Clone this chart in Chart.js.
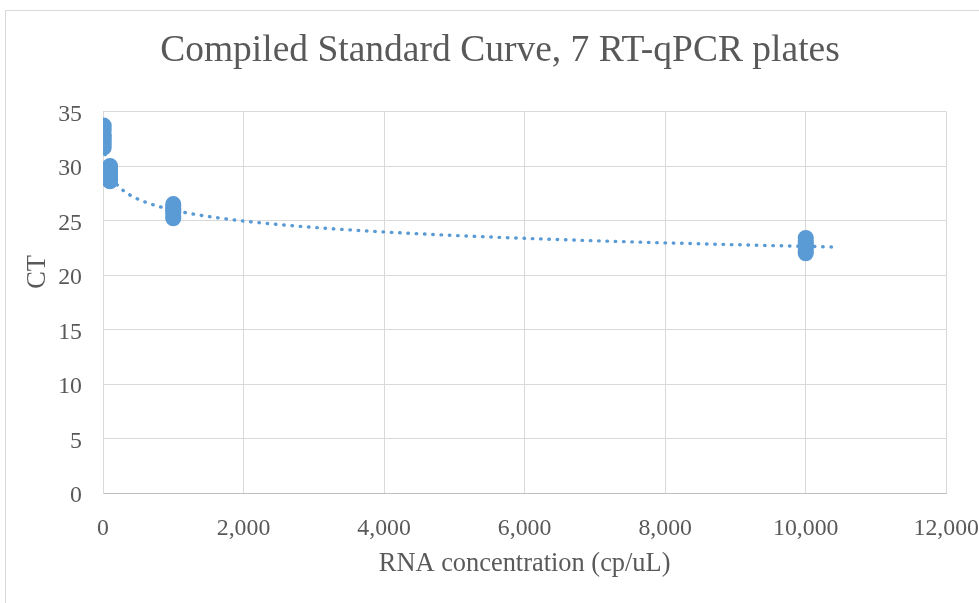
<!DOCTYPE html>
<html><head><meta charset="utf-8">
<script src="https://cdn.jsdelivr.net/npm/chart.js@4.4.0/dist/chart.umd.min.js"></script>
<style>
html,body{margin:0;padding:0;overflow:hidden;background:#fff;width:979px;height:603px}
#frame{position:absolute;left:5px;top:10px;width:1000px;height:620px;border:1px solid #d9d9d9;box-sizing:border-box}
#wrap{position:absolute;left:5px;top:10px;width:995px;height:593px}
</style></head><body>
<div id="frame"></div>
<div id="wrap"><canvas id="c" width="995" height="593"></canvas></div>
<script>
// ---- data ----
const concentrations = [10, 100, 1000, 10000];           // cp/uL
const ct10    = [33.7, 33.3, 32.9, 32.6, 32.3, 32.0, 31.7];
const ct100   = [30.0, 29.7, 29.5, 29.3, 29.0, 28.8, 28.6];
const ct1000  = [26.5, 26.3, 26.1, 25.9, 25.7, 25.4, 25.2];
const ct10000 = [23.4, 23.1, 22.9, 22.7, 22.5, 22.2, 22.0];
const xTickValues = [0, 2000, 4000, 6000, 8000, 10000, 12000];
const yTickValues = [0, 5, 10, 15, 20, 25, 30, 35];
const trendEndX = 10400;   // trendline forecast end

const ctGroups = [ct10, ct100, ct1000, ct10000];
const points = [];
concentrations.forEach((c, i) => ctGroups[i].forEach(v => points.push({x: c, y: v})));

// logarithmic least-squares trendline fitted to the data (y = a ln x + b)
const n = points.length;
let sx = 0, sy = 0, sxx = 0, sxy = 0;
points.forEach(p => { const l = Math.log(p.x); sx += l; sy += p.y; sxx += l*l; sxy += l*p.y; });
const a = (n*sxy - sx*sy) / (n*sxx - sx*sx);
const b = (sy - a*sx) / n;
const trend = [];
const x0 = concentrations[0];
for (let i = 0; i <= 400; i++) {
  const x = x0 + (trendEndX - x0) * i / 400;
  trend.push({x: x, y: a*Math.log(x) + b});
}

const BLUE = '#5B9BD5';
const TXT = '#595959';
const GRID = '#d9d9d9';
const FONT = '"Liberation Serif", "Times New Roman", serif';

const yTitle = {
  id: 'yTitle',
  afterDraw(chart) {
    const ctx = chart.ctx;
    ctx.save();
    ctx.translate(33, 262);
    ctx.rotate(-Math.PI/2);
    ctx.font = '26.4px ' + FONT;
    ctx.fillStyle = TXT;
    ctx.textAlign = 'center';
    ctx.textBaseline = 'middle';
    ctx.fillText('CT', 0, 0);
    ctx.restore();
  }
};

new Chart(document.getElementById('c'), {
  type: 'scatter',
  data: {
    datasets: [
      {
        label: 'CT',
        data: points,
        pointRadius: 7.3,
        pointBorderWidth: 1.5,
        pointBackgroundColor: BLUE,
        pointBorderColor: BLUE,
        pointHoverRadius: 7.3,
        order: 2
      },
      {
        type: 'line',
        label: 'Log. (CT)',
        data: trend,
        borderColor: BLUE,
        borderWidth: 3.4,
        borderDash: [0.5, 7.8],
        borderCapStyle: 'round',
        pointRadius: 0,
        fill: false,
        tension: 0,
        order: 1
      }
    ]
  },
  options: {
    responsive: false,
    animation: false,
    events: [],
    layout: { padding: { left: 45, right: 50, top: 0, bottom: 0 } },
    plugins: {
      legend: { display: false },
      tooltip: { enabled: false },
      title: {
        display: true,
        text: 'Compiled Standard Curve, 7 RT-qPCR plates',
        color: TXT,
        font: { family: FONT, size: 37.5, weight: 'normal' },
        padding: { top: 19, bottom: 37.5 }
      }
    },
    scales: {
      x: {
        type: 'linear',
        min: 0, max: 12000,
        afterBuildTicks(scale) { scale.ticks = xTickValues.map(v => ({value: v})); },
        afterFit(scale) { scale.height = 110; },
        grid: { color: GRID, lineWidth: 1, drawTicks: false },
        border: { color: '#bfbfbf', width: 1 },
        ticks: {
          color: TXT, padding: 21,
          font: { family: FONT, size: 23.8 },
          callback: v => v.toLocaleString('en-US'),
          maxRotation: 0
        },
        title: {
          display: true,
          text: 'RNA concentration (cp/uL)',
          color: TXT,
          font: { family: FONT, size: 26.4 },
          padding: { top: 0, bottom: 23 }
        }
      },
      y: {
        type: 'linear',
        min: 0, max: 35,
        afterBuildTicks(scale) { scale.ticks = yTickValues.map(v => ({value: v})); },
        afterFit(scale) { scale.width = 53; },
        grid: { color: GRID, lineWidth: 1, drawTicks: false },
        border: { color: GRID, width: 1 },
        ticks: {
          color: TXT, padding: 21, labelOffset: 3,
          font: { family: FONT, size: 23.8 }
        }
      }
    }
  },
  plugins: [yTitle]
});
</script>
</body></html>
